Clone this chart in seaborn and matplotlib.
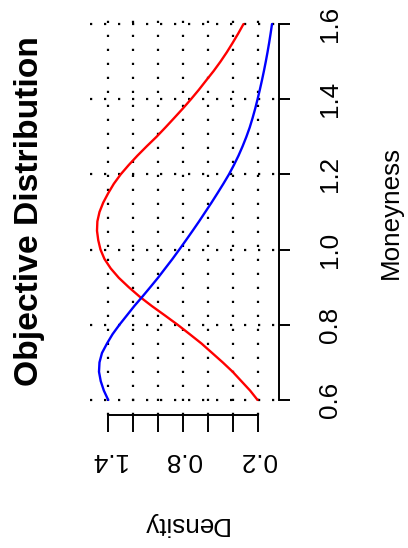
import matplotlib
matplotlib.use("Agg")
import matplotlib.pyplot as plt
import numpy as np
import pandas as pd
import seaborn as sns

# Moneyness grid and the two density curves
moneyness = [0.600, 0.625, 0.650, 0.675, 0.700, 0.725, 0.750, 0.775, 0.800, 0.825,
             0.850, 0.875, 0.900, 0.925, 0.950, 0.975, 1.000, 1.025, 1.050, 1.075,
             1.100, 1.125, 1.150, 1.175, 1.200, 1.225, 1.250, 1.275, 1.300, 1.325,
             1.350, 1.375, 1.400, 1.425, 1.450, 1.475, 1.500, 1.525, 1.550, 1.575,
             1.600]
density_red = [0.200, 0.260, 0.330, 0.400, 0.480, 0.565, 0.650, 0.745, 0.842, 0.945,
               1.050, 1.148, 1.235, 1.315, 1.380, 1.430, 1.462, 1.480, 1.490, 1.487,
               1.470, 1.440, 1.400, 1.355, 1.300, 1.235, 1.165, 1.090, 1.012, 0.940,
               0.870, 0.801, 0.735, 0.672, 0.613, 0.553, 0.498, 0.447, 0.400, 0.355,
               0.313]
density_blue = [1.400, 1.435, 1.460, 1.474, 1.470, 1.450, 1.410, 1.365, 1.310, 1.250,
                1.190, 1.125, 1.062, 1.000, 0.942, 0.884, 0.829, 0.775, 0.722, 0.670,
                0.620, 0.570, 0.522, 0.475, 0.430, 0.390, 0.353, 0.320, 0.290, 0.263,
                0.240, 0.219, 0.200, 0.182, 0.165, 0.149, 0.134, 0.120, 0.107, 0.095,
                0.084]

moneyness_ticks = [0.6, 0.8, 1.0, 1.2, 1.4, 1.6]
density_ticks = [0.2, 0.4, 0.6, 0.8, 1.0, 1.2, 1.4]
density_tick_labels = ["0.2", "", "", "0.8", "", "", "1.4"]

sns.set_style("ticks")
plt.rcParams["font.family"] = ["Liberation Sans", "DejaVu Sans"]
plt.rcParams["text.color"] = "black"
plt.rcParams["axes.labelcolor"] = "black"
plt.rcParams["xtick.color"] = "black"
plt.rcParams["ytick.color"] = "black"
plt.rcParams["axes.edgecolor"] = "black"

df = pd.DataFrame({
    "moneyness": moneyness * 2,
    "density": density_red + density_blue,
    "curve": ["red"] * len(moneyness) + ["blue"] * len(moneyness),
})

fig = plt.figure(figsize=(4.08, 5.48), dpi=100)
ax = fig.add_axes([90 / 408, (548 - 415) / 548, 189 / 408, 406 / 548])

sns.lineplot(data=df, x="density", y="moneyness", hue="curve",
             palette={"red": "#ff0000", "blue": "#0000ff"},
             orient="y", estimator=None, linewidth=1.7, legend=False, ax=ax)

# R-style 4% axis padding
dmin, dmax = df["density"].min(), df["density"].max()
dpad = 0.04 * (dmax - dmin)
mmin, mmax = min(moneyness), max(moneyness)
mpad = 0.04 * (mmax - mmin)
ax.set_xlim(dmax + dpad, dmin - dpad)
ax.set_ylim(mmin - mpad, mmax + mpad)

# dotted grid
ax.set_xticks(density_ticks)
ax.set_yticks(moneyness_ticks)
ax.grid(True, color="black", linestyle=(0, (1, 5.3)), linewidth=1.6)

# axes: only the right and bottom lines, spanning the tick range
for side in ("left", "top"):
    ax.spines[side].set_visible(False)
ax.spines["right"].set_visible(True)
ax.spines["bottom"].set_visible(True)
ax.spines["right"].set_bounds(mmin, mmax)
ax.spines["bottom"].set_bounds(min(density_ticks), max(density_ticks))
ax.spines["right"].set_linewidth(1.4)
ax.spines["bottom"].set_linewidth(1.4)

ax.yaxis.tick_right()
ax.set_yticklabels([f"{t:.1f}" for t in moneyness_ticks])
ax.tick_params(axis="y", which="major", length=8, width=1.4, labelsize=18.7,
               labelrotation=90, pad=20, colors="black")
for lab in ax.get_yticklabels():
    lab.set_va("center")

ax.set_xticklabels(density_tick_labels)
ax.tick_params(axis="x", which="major", length=12, width=1.4, labelsize=18.7,
               labelrotation=180, pad=12, colors="black")

ax.yaxis.set_label_position("right")
ax.set_ylabel("Moneyness", fontsize=18.7, rotation=90, color="black")
ax.yaxis.set_label_coords((379 - 90) / 189, 0.5)
ax.set_xlabel("Density", fontsize=18.7, rotation=180, color="black")
ax.xaxis.set_label_coords(0.5, -(512 - 415) / 406)

fig.text(30 / 408, 1 - 211 / 548, "Objective Distribution", rotation=90,
         fontsize=24.2, fontweight="bold", ha="center", va="center",
         color="black")

fig.savefig("out.png", dpi=100)
